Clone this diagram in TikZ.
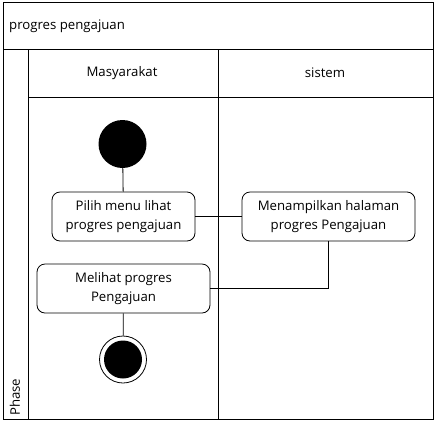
\documentclass[tikz,border=0pt]{standalone}
\usepackage{fontspec}
\setmainfont{Open Sans}
\begin{document}
\begin{tikzpicture}[x=1pt,y=-1pt,
  frameline/.style={draw=black, line width=0.8pt},
  lbl/.style={inner sep=0pt, font=\fontsize{13.2}{16}\selectfont},
  act/.style={draw=black, line width=0.8pt, rounded corners=8pt, align=center, inner sep=0pt,
    minimum height=49pt, font=\fontsize{13.2}{19}\selectfont},
  conn/.style={draw=black, line width=0.8pt},
  startnode/.style={circle, fill=black, inner sep=0pt, minimum size=48pt},
  endouter/.style={circle, draw=black, line width=0.8pt, fill=white, inner sep=0pt, minimum size=47pt},
  endinner/.style={circle, fill=black, inner sep=0pt, minimum size=38pt}]
\useasboundingbox (0,0) rectangle (435,426);
% frame and lanes
\draw[frameline] (3,2) rectangle (433,419);
\draw[frameline] (3,49) -- (433,49);
\draw[frameline] (28,97) -- (433,97);
\draw[frameline] (28,49) -- (28,419);
\draw[frameline] (218,49) -- (218,419);
% labels
\node[lbl, anchor=west] (title) at (9,26) {progres pengajuan};
\node[lbl] (lane1) at (122,73) {Masyarakat};
\node[lbl] (lane2) at (325,73) {sistem};
\node[lbl, rotate=90, anchor=west] (phase) at (15,416) {Phase};
% activities
\node[act, minimum width=143pt] (a1) at (123.5,216.5) {Pilih menu lihat\\progres pengajuan};
\node[act, minimum width=173pt] (a2) at (328.5,216.5) {Menampilkan halaman\\progres Pengajuan};
\node[act, minimum width=173pt] (a3) at (123.5,288.5) {Melihat progres\\Pengajuan};
\node[startnode] (start) at (122.5,144) {};
\node[endouter] (end) at (123,359.5) {};
\node[endinner] (endin) at (end.center) {};
% connectors
\draw[conn] (start) -- (a1);
\draw[conn] (a1) -- (a2);
\draw[conn] (a2.south) |- (a3.east);
\draw[conn] (a3) -- (end);
\end{tikzpicture}
\end{document}
